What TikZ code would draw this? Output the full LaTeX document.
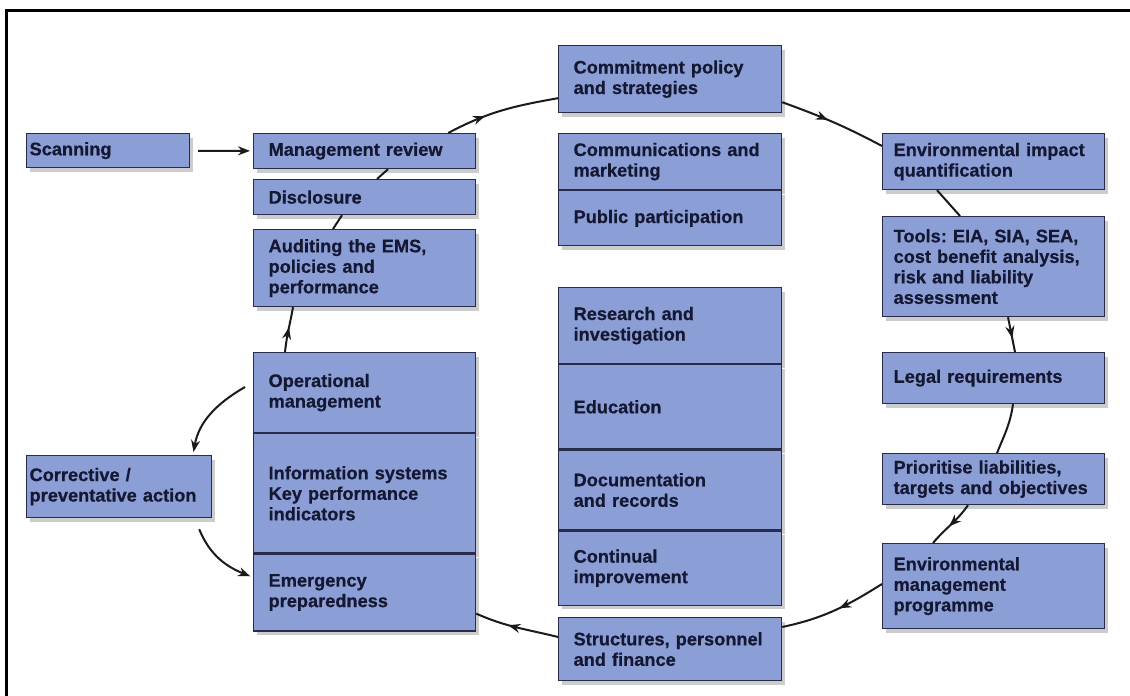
\documentclass[tikz,border=0pt]{standalone}
\usepackage{fontspec}
\setmainfont{Liberation Sans}[BoldFeatures={FakeBold=0.6}]
\usepackage[HTML]{xcolor}
\usetikzlibrary{positioning, arrows.meta, shadows, decorations.markings}

\definecolor{boxfill}{HTML}{8C9ED6}
\definecolor{boxline}{HTML}{262C4A}
\definecolor{boxtext}{HTML}{141833}
\definecolor{linkgray}{HTML}{1A1A1A}

\frenchspacing
\hyphenpenalty=10000
\begin{document}
\begin{tikzpicture}[
    x=1pt, y=1pt, % one unit is one pixel of the original
    node distance=0pt, % stacked parts touch each other
    box/.style={draw=boxline, fill=boxfill, line width=1.2pt, text=boxtext,
        font=\fontsize{18.2}{20.5}\selectfont\bfseries,
        align=left, inner ysep=0pt, anchor=north west,
        drop shadow={shadow xshift=3pt, shadow yshift=-4pt, opacity=.4}},
    lbox/.style={box, inner xsep=15pt, text width=192pt}, % left column
    mbox/.style={box, inner xsep=15pt, text width=193pt}, % middle column
    rbox/.style={box, inner xsep=11pt, text width=200pt}, % right column
    link/.style={draw=linkgray, line width=2pt},
    arr/.style={link, -{Stealth[length=12pt,width=9pt]}},
    midarr/.style={link, postaction={decorate, decoration={markings,
        mark=at position #1 with {\arrow{Stealth[length=12pt,width=9pt]}}}}}
]
    \useasboundingbox (0,0) rectangle (1130,-696);

    % 1. Outer frame (top and left edge only)
    \draw[line width=3pt] (6.5,-696) -- (6.5,-10) -- (1130,-10);

    % 2. Left column
    \node (scan) [box, inner xsep=3pt, text width=157pt, minimum height=34pt]
        at (26,-133) {Scanning};
    \node (mgmt) [lbox, minimum height=35pt] at (253,-133) {Management review};
    \node (disc) [lbox, minimum height=35pt] at (253,-179) {Disclosure};
    \node (audit) [lbox, minimum height=77pt] at (253,-229)
        {Auditing the EMS,\\policies and\\performance};
    % operational block, three parts stacked
    \node (opm) [lbox, minimum height=80pt] at (253,-352)
        {Operational\\management};
    \node (infsys) [lbox, minimum height=119pt, below=of opm]
        {Information systems\\Key performance\\indicators};
    \node (emer) [lbox, minimum height=77pt, below=of infsys]
        {Emergency\\preparedness};
    \node (corr) [box, inner xsep=3pt, text width=179pt, minimum height=62pt]
        at (26,-455) {Corrective /\\preventative action};

    % 3. Middle column
    \node (commit) [mbox, minimum height=67pt] at (558,-45)
        {Commitment policy\\and strategies};
    \node (comm) [mbox, minimum height=56pt] at (558,-133)
        {Communications and\\marketing};
    \node (pub) [mbox, minimum height=55pt, below=of comm] {Public participation};
    \node (res) [mbox, minimum height=76pt] at (558,-287)
        {Research and\\investigation};
    \node (edu) [mbox, minimum height=84pt, below=of res] {Education};
    \node (doc) [mbox, minimum height=80pt, below=of edu]
        {Documentation\\and records};
    \node (cont) [mbox, minimum height=74pt, below=of doc]
        {Continual\\improvement};
    \node (struct) [mbox, minimum height=63pt] at (558,-617)
        {Structures, personnel\\and finance};

    % 4. Right column
    \node (env) [rbox, minimum height=56pt] at (882,-133)
        {Environmental impact\\quantification};
    \node (tools) [rbox, minimum height=100pt] at (882,-216)
        {Tools: EIA, SIA, SEA,\\cost benefit analysis,\\risk and liability\\assessment};
    \node (legal) [rbox, minimum height=51pt] at (882,-352) {Legal requirements};
    \node (prio) [rbox, minimum height=51pt] at (882,-453)
        {Prioritise liabilities,\\targets and objectives};
    \node (emp) [rbox, minimum height=85pt] at (882,-543)
        {Environmental\\management\\programme};

    % 5. Connectors round the cycle
    \draw[arr, shorten <=8pt, shorten >=3pt] (scan) -- (mgmt);
    \draw[midarr=0.35] ([xshift=-28pt]mgmt.north east)
        to[out=28, in=190] ([yshift=15pt]commit.south west);
    \draw[midarr=0.45] ([yshift=11pt]commit.south east)
        to[out=-20, in=152] ([yshift=-13pt]env.north west);
    \draw[link] ([xshift=55pt]env.south west) -- ([xshift=78pt]tools.north west);
    \draw[midarr=0.6] ([xshift=126pt]tools.south west)
        -- ([xshift=133pt]legal.north west);
    \draw[link] ([xshift=131pt]legal.south west)
        to[out=-98, in=68] ([xshift=115pt]prio.north west);
    \draw[midarr=0.55] ([xshift=86pt]prio.south west)
        to[out=-125, in=50] ([xshift=51pt]emp.north west);
    \draw[midarr=0.45] ([yshift=-41pt]emp.north west)
        to[out=-148, in=12] ([yshift=-10pt]struct.north east);
    \draw[midarr=0.6] ([yshift=-20pt]struct.north west)
        to[out=166, in=-24] ([yshift=18pt]emer.south east);
    \draw[midarr=0.55] ([xshift=32pt]opm.north west)
        to[out=84, in=-100] ([xshift=40pt]audit.south west);
    \draw[link] ([xshift=80pt]audit.north west) -- ([xshift=89pt]disc.south west);
    \draw[link] ([xshift=124pt]disc.north west) -- ([xshift=135pt]mgmt.south west);

    % 6. Side loop through corrective action
    \draw[arr, shorten >=3pt] ([xshift=-8pt, yshift=-35pt]opm.north west)
        to[out=-150, in=80] ([xshift=167pt]corr.north west);
    \draw[arr, shorten >=3pt] ([xshift=-13pt, yshift=-11pt]corr.south east)
        to[out=-68, in=158] ([yshift=-24pt]emer.north west);

\end{tikzpicture}
\end{document}
